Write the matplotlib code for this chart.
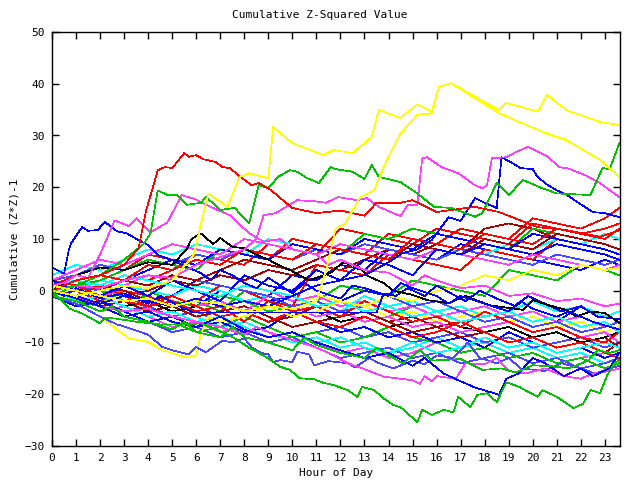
import matplotlib
matplotlib.use("Agg")
import matplotlib.pyplot as plt

# hourly grid for the background walks
hours = list(range(24)) + [23.6]

# prominent walks, (hour, value) pairs
yellow_top = [(0, 0), (1, -1), (2, 0), (3, 1), (4, 0.5), (5, 2), (5.9, 7), (6.5, 18.8), (7.3, 16.2), (7.8, 22),
              (8.2, 22.7), (9.0, 21.7), (9.2, 31.6), (10, 28.5), (11.3, 26.2), (11.7, 27.2), (12.5, 26.6), (13, 28.5),
              (13.3, 29.7), (13.6, 34.9), (14.5, 33.4), (15.2, 36), (15.8, 34.6), (16.1, 39.4), (16.6, 40.1),
              (18.6, 34.9), (18.9, 36.3), (20.2, 34.6), (20.6, 37.8), (21.4, 34.9), (22.8, 32.6), (23.6, 32)]
yellow_second = [(0, 1), (1, 0), (2, -1), (3, -2), (4, -1.5), (5, -3), (6, -2), (7, -2.5), (8, -4), (9, -3),
                 (10, -3.5), (11, -2), (11.4, 4), (11.8, 12), (12.2, 13), (12.8, 18), (13.4, 19.4), (13.9, 25),
                 (14.5, 30.4), (15.2, 34), (15.8, 34.3), (16.1, 39.4), (16.6, 40.1), (18.6, 34.3), (20.5, 30.5),
                 (21.4, 29.1), (22.8, 25.3), (23.6, 22)]
yellow_low = [(0, 0), (1, -2.5), (2, -5), (2.7, -7.5), (3.2, -9.2), (4, -9.9), (4.6, -11.5), (5.5, -12.8), (6, -12.5),
              (6.2, -8.2), (6.5, -5), (7, -6), (8, -5), (9, -3), (10, -5), (11, -4), (12, -2), (13, -3), (14, -1),
              (15, -2), (16, 0), (17, 1), (18, 3), (19, 2), (20, 4), (21, 3), (22, 5), (23, 4), (23.6, 4.5)]
red_top = [(0, 0), (1, 2), (2, 3), (3, 5), (3.6, 8.2), (3.9, 15.2), (4.4, 23.3), (4.7, 23.9), (5, 23.7), (5.5, 26.6),
           (5.7, 25.9), (6, 26.2), (6.3, 25.4), (6.8, 24.9), (7.1, 23.9), (7.4, 23.7), (7.9, 21.8), (8.3, 20.4),
           (8.6, 20.8), (9.1, 19.5), (9.6, 17.5), (10, 16), (11, 15), (12, 15.5), (13, 14.5), (13.5, 17),
           (14.5, 17), (15, 17.5), (16, 15.2), (16.6, 15.6), (17.6, 16.2), (18.6, 15.2), (20.2, 12.3),
           (21.4, 11.7), (22.8, 10.4), (23.6, 11.7)]
green_top = [(0, 0), (1, 1), (2, 3), (3, 6), (3.8, 9), (4.1, 11.1), (4.4, 19.4), (4.8, 18.5), (5.2, 18.5),
             (5.6, 16.6), (6.2, 17), (6.4, 18.1), (6.8, 16.5), (7, 15.6), (7.6, 16), (7.8, 15), (8.2, 13),
             (8.6, 20.4), (9, 19.8), (9.4, 22), (9.9, 23.3), (10.2, 23), (10.6, 21.8), (11.1, 20.8), (11.6, 23.9),
             (11.8, 23.5), (12.5, 23), (13, 21.6), (13.3, 24.3), (13.6, 22), (14.5, 21), (15.2, 18.8), (15.9, 16.2),
             (16.6, 16), (17.6, 14.3), (17.9, 15), (18.5, 20.8), (18.7, 20), (19, 18.5), (19.6, 21.4), (20.3, 20),
             (21, 18.8), (22.4, 18.5), (22.9, 23.7), (23.2, 23.5), (23.6, 28.5)]
green_bottom = [(0, 0), (0.7, -3.4), (1.3, -4.5), (2, -6.3), (2.2, -5.2), (2.7, -5.4), (3.5, -6), (4.5, -6.5),
                (5.5, -6.5), (6.2, -6.3), (6.9, -7.6), (7.6, -9.2), (8.2, -11), (8.9, -12.8), (9.5, -14.7),
                (9.9, -15.3), (10.3, -16.9), (10.9, -17.1), (11.3, -17.8), (11.7, -18.2), (12.3, -19.2),
                (12.7, -20.5), (12.9, -18.6), (13.4, -19.2), (13.8, -20.8), (14.2, -22.1), (14.5, -22.5),
                (15.2, -25.4), (15.4, -23), (15.8, -24), (16.3, -23), (16.7, -23.5), (16.9, -20.5), (17.4, -22.5),
                (17.7, -20.1), (18.1, -19.8), (18.5, -21.5), (18.9, -17.7), (19.4, -18.5), (20.2, -20.5),
                (20.4, -19.2), (21, -20.5), (21.7, -22.7), (22.1, -21.8), (22.4, -19.2), (22.8, -19.8),
                (23.1, -16.3), (23.4, -14), (23.6, -13.4)]
green_low = [(0, -1), (1, -2), (2, -4), (2.5, -3), (3, -5), (4, -6), (5, -7.5), (5.5, -6), (6, -8), (7, -9),
             (7.5, -7), (8, -9), (9, -10), (10, -11.5), (10.5, -9), (11, -10.5), (12, -12), (13, -13), (13.5, -11),
             (14, -12.5), (14.6, -14), (15.3, -11.5), (15.8, -13.5), (17, -13.2), (17.9, -15.3), (18.7, -15),
             (19.3, -15.8), (20, -14.4), (20.8, -14.6), (21.5, -15), (22.3, -13.5), (22.7, -11.5), (23.2, -12),
             (23.6, -11.5)]
magenta_top = [(0, 0), (1, 1), (2, 0.5), (3, 2), (4, 3), (5, 2.5), (6, 5), (7, 6.5), (8, 8), (8.5, 10), (8.8, 14.6),
               (9.3, 15), (10.2, 17.5), (10.9, 17.3), (11.4, 17), (11.9, 18.1), (12.7, 17.5), (13.1, 17.9),
               (13.6, 16.2), (14.5, 14.4), (14.8, 16.6), (15.2, 16.6), (15.4, 25.6), (15.6, 25.8), (16.2, 23.9),
               (16.9, 22.7), (17.6, 20.4), (17.9, 19.8), (18.1, 20.4), (18.3, 25.6), (18.9, 25.8), (19.3, 26.8),
               (19.8, 27.8), (20.6, 26), (21.1, 23.9), (21.5, 23.6), (22.2, 22.3), (22.8, 20.8), (23.6, 18.1)]
magenta_hump = [(0, 1), (0.5, 1.5), (1, 3), (1.5, 2.5), (2, 7), (2.6, 13.6), (3.2, 12.5), (3.5, 14), (4.1, 11.3),
                (4.8, 13.2), (5.4, 18.5), (6, 17.6), (6.7, 16), (7.4, 14.6), (8.2, 11.1), (8.8, 9.5), (9.5, 10),
                (10, 8), (11, 7), (11.5, 5), (12, 6), (13, 4), (14, 3.5), (15, 1), (15.5, 3), (16, 2), (17, 0.5),
                (18, 1), (19, -1), (20, -0.5), (21, -2), (22, -1.5), (23, -3), (23.6, -2.5)]
magenta_bottom = [(0, 0), (1, -1), (2, -3), (3, -4), (4, -3.5), (5, -5), (6, -6), (7, -7), (8, -8.5), (8.5, -7),
                  (9, -8), (10, -9.5), (11, -11), (11.5, -12), (12.3, -14), (12.8, -14.8), (13.3, -15.7),
                  (13.8, -16.6), (14.5, -17), (15, -17.3), (15.3, -18), (15.5, -16.5), (15.8, -17.5), (16, -16.5),
                  (16.8, -17), (17.2, -14), (18, -14.2), (18.5, -13), (19, -15.5), (19.7, -16), (20.5, -15),
                  (21.3, -16.5), (22, -17), (22.5, -16), (23.2, -15.5), (23.6, -15)]
blue_left = [(0, 4.5), (0.5, 3.3), (0.7, 7.9), (0.8, 9.2), (1.25, 12.3), (1.5, 11.6), (1.9, 11.7), (2.2, 13.3),
             (2.7, 11.5), (3.1, 11.1), (3.6, 9.8), (4, 8.8), (4.4, 6.9), (5, 5.9), (5.4, 5), (6.2, 3.4), (6.6, 2),
             (7, 4), (7.5, 3), (8, 1.5), (8.5, 0.5), (9, 2.5), (9.5, 1), (10, -0.5), (10.5, 1.5), (11, 0),
             (12, -1.5), (12.5, 1), (13, 0.5), (14, -1), (14.5, 1.5), (15, 0.5), (16, -1), (16.5, -2.5), (17, -1),
             (18, -2.5), (19, -4), (19.5, -2), (20, -3.5), (21, -5), (21.5, -4), (22.5, -6), (23.6, -7.5)]
blue_jump = [(0, 0), (1, -1), (2, -2.5), (3, -1), (4, -2), (5, -3), (6, -1.5), (7, -3), (8, -2), (9, -3), (10, -1),
             (11, 1), (12, 2), (13, 3), (14, 5.5), (14.6, 7.3), (15.2, 8), (15.8, 9.8), (16.5, 14.2), (17, 13.5),
             (17.6, 17.9), (18, 17), (18.5, 16), (18.7, 25.8), (19.1, 24.8), (19.5, 23.7), (20, 23.5), (20.2, 22),
             (20.6, 20.5), (21, 19.4), (21.4, 18.6), (21.9, 17), (22.5, 15.2), (23, 15), (23.6, 14.2)]
blue_flat = [(0, 0), (0.5, -1), (1, 0.5), (2, -1.5), (3, -0.5), (4, -2.5), (4.5, -1), (5.3, -3), (5.9, -4.2),
             (13.5, -4.2), (13.8, -0.5), (14.3, -1), (14.8, 0.5), (15.5, -1), (16, 1), (16.6, -0.5), (17.2, -2),
             (17.8, 0), (18.5, -1.5), (19.3, -3), (19.8, -1), (20.5, -2.5), (21.2, -4), (22, -3), (22.7, -5),
             (23.6, -5.5)]
blue_bottom = [(0, 0), (1, -1.5), (2, -3), (3, -5), (4, -4), (5, -6), (6, -7), (7, -5), (8, -7.5), (9, -9), (10, -8),
               (11, -10), (12, -11.5), (13, -13), (14, -12), (15, -14.5), (15.5, -13), (16.3, -16), (17, -17.5),
               (17.6, -18.7), (18.6, -20.1), (18.9, -17), (19.4, -16), (20, -13), (20.5, -14), (21.3, -16.5),
               (22, -15), (22.5, -16.5), (23.2, -15), (23.6, -12)]
lightblue_bottom = [(0, -1), (1, -2.5), (2, -5), (2.7, -6.5), (3.2, -7.2), (4, -8.5), (4.6, -10.9), (5, -11.5),
                    (5.7, -12.3), (6, -10.9), (6.4, -11.9), (7.1, -9.6), (7.5, -10), (8, -9.2), (8.3, -10.9),
                    (8.7, -12), (9, -12.3), (9.2, -13.8), (9.5, -13.4), (10, -13.8), (10.2, -11.8), (10.7, -12.3),
                    (10.9, -14.4), (11.5, -13.6), (12.3, -14), (12.6, -14.8), (13.2, -13), (13.6, -14), (14.2, -15),
                    (15, -13.5), (15.5, -14.2), (16, -12.5), (16.7, -13), (17.3, -10), (17.8, -13), (18.5, -14),
                    (19, -13), (19.5, -15), (20.5, -15.5), (21.2, -14), (22, -15), (22.6, -16), (23.2, -15),
                    (23.6, -14.5)]
black_main = [(0, 0), (1, 3), (2, 4.5), (3, 4), (4, 5.5), (5, 5), (5.6, 8), (5.8, 10), (6.2, 11.1), (6.7, 9),
              (7, 10.2), (7.5, 8.5), (8, 8.2), (8.4, 7.2), (9, 6), (9.4, 5), (9.9, 4), (10.7, 2), (11.6, 3.5),
              (12.1, 5.5), (12.8, 4.5), (13.2, 2.7), (13.8, 1.5), (14.2, 0), (15, -0.8), (15.6, -1.8), (16.5, -2.4),
              (17.2, -1), (18.2, -2.8), (19.6, -3.7), (20, -1.8), (20.6, -2.7), (21.4, -3.7), (21.8, -5), (22.4, -4),
              (23, -4.3), (23.6, -6.2)]

# background walks on the hourly grid
red_a = [1, 3, 5, 4, 7, 6, 5, 8, 7, 6, 10, 9, 8, 7, 11, 10, 9, 12, 11, 10, 14, 13, 12, 14, 16]
red_b = [0, 2, 1, 3, 2, 4, 7, 6, 5, 9, 8, 7, 12, 11, 10, 9, 12, 11, 10, 9, 13, 12, 11, 12, 13]
red_c = [-1, 0, -2, 0, -1, -3, -2, 1, 0, -2, -3, 5, 4, 3, 7, 6, 5, 4, 8, 7, 6, 10, 9, 8, 7]
red_d = [2, 1, -1, -2, -3, -1, -3, -5, -4, -6, -4, -6, -7, -5, -7, -9, -8, -6, -8, -10, -9, -11, -10, -12, -13]
red_e = [0, -1, 1, -1, -3, -2, -4, -3, -6, -2, -4, -3, -5, -2, -4, -6, -5, -7, -4, -6, -8, -7, -9, -10, -8]
red_f = [0, 1, 3, 2, 5, 4, 6, 5, 8, 7, 6, 9, 8, 7, 6, 10, 9, 8, 11, 10, 9, 12, 11, 10, 12]
green_a = [0, -1, 0, -2, -1, -3, -2, -4, 0, -1, -3, -2, 1, 0, -1, 2, 1, 0, -1, 4, 3, 2, 5, 4, 3]
green_b = [1, 2, 0, -1, 0, -2, -3, -1, -2, -4, -3, -5, -4, -6, -5, -3, -5, -4, -6, -5, -7, -6, -8, -7, -6]
green_c = [0, -2, -3, -5, -4, -6, -8, -7, -5, -7, -9, -8, -10, -9, -7, -9, -10, -12, -11, -13, -12, -14, -13, -15, -14]
green_d = [-1, 1, 2, 4, 6, 5, 4, 8, 7, 6, 9, 8, 7, 11, 10, 12, 11, 10, 9, 8, 12, 11, 10, 9, 8]
blue_a = [0, -2, -1, -3, -2, -4, -3, 0, -2, -1, 3, 2, 5, 4, 8, 7, 6, 9, 8, 7, 6, 5, 4, 6, 5]
blue_b = [1, 0, -2, 1, 0, -1, 2, 1, 0, -2, -1, -3, -2, 0, -1, -3, -2, -4, -3, -5, -4, -6, -3, -5, -4]
blue_c = [-1, -3, -2, -4, -6, -5, -7, -6, -8, -7, -4, -6, -8, -7, -9, -8, -10, -9, -11, -8, -10, -12, -11, -13, -12]
blue_d = [0, 1, 3, 2, 4, 6, 5, 8, 7, 6, 9, 8, 7, 10, 9, 8, 11, 10, 9, 8, 7, 9, 8, 7, 6]
blue_e = [2, 0, -1, 1, -1, 2, 0, -2, 3, 1, 0, 4, 2, 6, 5, 3, 8, 7, 9, 8, 11, 10, 9, 8, 7]
magenta_a = [0, -2, -4, -3, -5, -7, -6, -8, -7, -9, -8, -10, -12, -11, -13, -12, -10, -12, -11, -13, -12, -14, -13, -12, -13]
magenta_b = [1, 0, 2, 1, 3, 2, 0, -1, 1, 0, -2, -1, -3, -2, -4, -3, -5, -4, -3, -5, -4, -6, -5, -7, -6]
magenta_c = [0, 1, -1, 0, -2, -1, -3, -2, -4, -1, -3, -5, -4, -6, -5, -7, -6, -8, -7, -6, -8, -7, -9, -8, -10]
magenta_d = [2, 4, 6, 5, 7, 9, 8, 7, 10, 9, 8, 7, 9, 8, 7, 6, 8, 7, 6, 5, 7, 6, 5, 4, 5]
cyan_a = [0, -1, -3, -2, -4, -3, -5, -7, -6, -8, -10, -9, -11, -10, -12, -11, -9, -11, -10, -12, -11, -13, -12, -14, -13]
cyan_b = [1, 0, 2, 1, 0, -1, 1, 0, -2, -1, -3, -2, -4, -1, -3, -2, -4, -3, -5, -4, -2, -4, -3, -5, -4]
cyan_c = [3, 5, 4, 6, 8, 7, 9, 8, 7, 10, 9, 8, 7, 9, 8, 7, 6, 8, 7, 9, 8, 10, 9, 11, 10]
cyan_d = [0, -2, -1, -3, -5, -4, -6, -5, -7, -9, -8, -10, -9, -11, -12, -10, -12, -11, -9, -11, -10, -12, -11, -10, -11]
cyan_e = [1, 2, 1, 3, 2, 1, 0, -1, 1, 0, -1, -3, -2, -4, -3, -5, -4, -6, -5, -4, -6, -5, -7, -6, -8]
lightblue_a = [0, -1, -2, -4, -3, -5, -4, -6, -8, -7, -9, -8, -7, -9, -8, -10, -9, -8, -10, -9, -11, -10, -9, -11, -10]
lightblue_b = [-1, -3, -2, -4, -6, -8, -7, -9, -8, -10, -9, -11, -13, -12, -11, -13, -12, -14, -13, -12, -14, -13, -15, -14, -13]
lightblue_c = [2, 3, 5, 4, 6, 5, 7, 6, 8, 7, 6, 8, 7, 9, 8, 7, 6, 8, 7, 6, 5, 7, 6, 5, 6]
lightblue_d = [0, 1, 0, 2, 1, 3, 2, 1, 0, -1, -3, -2, -4, -3, -1, -3, -2, -4, -6, -5, -7, -6, -8, -7, -6]
yellow_a = [0, -1, -2, -1, -3, -2, -4, -3, -2, -4, -3, -1, -2, -3, -5, -4, -6, -5, -4, -6, -5, -7, -6, -8, -7]
darkred_a = [0, -1, -3, -2, -4, -3, -5, -4, -3, -5, -7, -6, -5, -4, -6, -5, -7, -6, -8, -7, -9, -8, -10, -9, -11]
darkred_b = [1, 0, 1, -1, 0, 2, 1, 3, 2, 4, 3, 5, 4, 6, 8, 7, 9, 8, 12, 13, 12, 10, 9, 8, 7]
darkred_c = [0, 2, 1, 0, -2, -1, -3, -5, -4, -6, -5, -3, -5, -4, -6, -8, -7, -9, -8, -10, -9, -11, -10, -12, -10]
darkred_d = [0, -1, 0, 2, 1, 3, 2, 4, 6, 5, 4, 6, 8, 7, 6, 9, 8, 7, 10, 9, 8, 11, 10, 9, 8]
black_b = [-1, -2, -1, -3, -2, -4, -3, -2, -4, -3, -5, -4, -6, -5, -7, -6, -5, -7, -8, -7, -9, -8, -10, -9, -8]

RED, GREEN, BLUE, MAG, CYAN = "#ff0000", "#00c000", "#0000ff", "#ff40ff", "#00ffff"
LBLUE, YEL, BLK, DRED = "#4848ff", "#ffff00", "#000000", "#a00000"

grid_series = [
    (red_a, RED), (green_a, GREEN), (blue_a, BLUE), (magenta_a, MAG), (cyan_a, CYAN), (lightblue_a, LBLUE),
    (yellow_a, YEL), (darkred_a, DRED), (red_b, RED), (green_b, GREEN), (blue_b, BLUE), (magenta_b, MAG),
    (cyan_b, CYAN), (lightblue_b, LBLUE), (darkred_b, DRED), (black_b, BLK), (red_c, RED), (green_c, GREEN),
    (blue_c, BLUE), (magenta_c, MAG), (cyan_c, CYAN), (lightblue_c, LBLUE), (darkred_c, DRED), (red_d, RED),
    (green_d, GREEN), (blue_d, BLUE), (magenta_d, MAG), (cyan_d, CYAN), (lightblue_d, LBLUE), (darkred_d, DRED),
    (red_e, RED), (blue_e, BLUE), (cyan_e, CYAN), (red_f, RED),
]
pair_series = [
    (yellow_low, YEL), (lightblue_bottom, LBLUE), (magenta_bottom, MAG), (blue_bottom, BLUE), (green_low, GREEN),
    (blue_flat, BLUE), (black_main, BLK), (blue_left, BLUE), (magenta_hump, MAG), (blue_jump, BLUE),
    (magenta_top, MAG), (green_bottom, GREEN), (green_top, GREEN), (red_top, RED), (yellow_second, YEL),
    (yellow_top, YEL),
]

plt.rcParams['font.family'] = 'DejaVu Sans Mono'
fig = plt.figure(figsize=(6.4, 4.8), dpi=100)
ax = fig.add_axes([52 / 640, 34 / 480, 568 / 640, 414 / 480])

for vals, col in grid_series:
    ax.plot(hours, vals, color=col, lw=0.5, antialiased=False)
for pts, col in pair_series:
    ax.plot([p[0] for p in pts], [p[1] for p in pts], color=col, lw=0.5, antialiased=False)

ax.set_xlim(0, 23.63)
ax.set_ylim(-30, 50)
ax.set_xticks(range(24))
ax.set_yticks(range(-30, 51, 10))
ax.tick_params(direction='in', length=5, width=1, top=True, right=True, labelsize=8, pad=5)
for s in ax.spines.values():
    s.set_linewidth(1)
ax.set_xlabel("Hour of Day", fontsize=8, labelpad=4)
ax.set_ylabel("Cumulative (Z*Z)-1", fontsize=8, labelpad=4)
fig.suptitle("Cumulative Z-Squared Value", fontsize=8, y=0.98)

fig.savefig("out.png", dpi=100)
